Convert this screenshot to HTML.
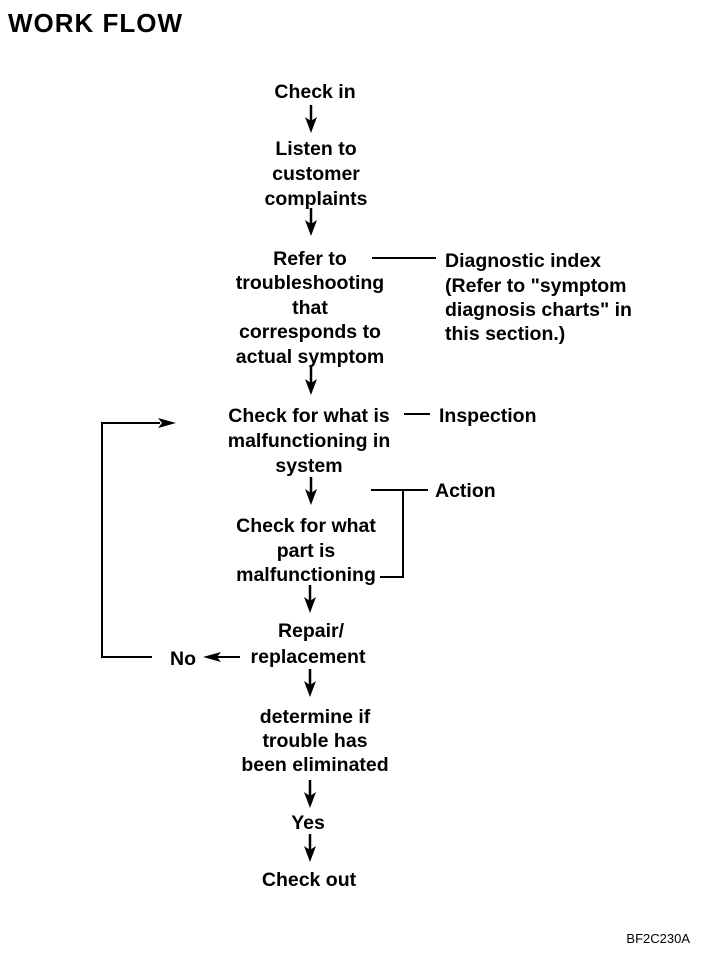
<!DOCTYPE html>
<html><head><meta charset="utf-8"><style>
html,body{margin:0;padding:0;background:#fff;}
svg{display:block;}
text{font-family:"Liberation Sans",sans-serif;font-size:19.5px;font-weight:bold;fill:#000;}
</style></head><body>
<svg width="704" height="962" viewBox="0 0 704 962" xmlns="http://www.w3.org/2000/svg">
<defs>
<g id="ad"><line x1="0" y1="0" x2="0" y2="16" stroke="#000" stroke-width="2.5"/><path d="M-6,12 L0,28 L6,12 L0,16 Z" fill="#000"/></g>
</defs>
<text x="8" y="32" style="font-size:26px;letter-spacing:1px">WORK FLOW</text>

<g text-anchor="middle">
<text x="315" y="98">Check in</text>
<text x="316" y="155">Listen to</text>
<text x="316" y="180">customer</text>
<text x="316" y="205">complaints</text>
<text x="310" y="265">Refer to</text>
<text x="310" y="289">troubleshooting</text>
<text x="310" y="314">that</text>
<text x="310" y="338">corresponds to</text>
<text x="310" y="363">actual symptom</text>
<text x="309" y="422">Check for what is</text>
<text x="309" y="447">malfunctioning in</text>
<text x="309" y="472">system</text>
<text x="306" y="532">Check for what</text>
<text x="306" y="557">part is</text>
<text x="306" y="581">malfunctioning</text>
<text x="311" y="637">Repair/</text>
<text x="308" y="663">replacement</text>
<text x="183" y="665">No</text>
<text x="315" y="723">determine if</text>
<text x="315" y="747">trouble has</text>
<text x="315" y="771">been eliminated</text>
<text x="308" y="829">Yes</text>
<text x="309" y="886">Check out</text>
</g>
<text x="445" y="267">Diagnostic index</text>
<text x="445" y="292">(Refer to "symptom</text>
<text x="445" y="316">diagnosis charts" in</text>
<text x="445" y="340">this section.)</text>
<text x="439" y="422">Inspection</text>
<text x="435" y="497">Action</text>
<text x="690" y="943" text-anchor="end" style="font-size:13px;font-weight:normal">BF2C230A</text>

<use href="#ad" x="311" y="105"/>
<use href="#ad" x="311" y="208"/>
<use href="#ad" x="311" y="367"/>
<use href="#ad" x="311" y="477"/>
<use href="#ad" x="310" y="585"/>
<use href="#ad" x="310" y="669"/>
<use href="#ad" x="310" y="780"/>
<use href="#ad" x="310" y="834"/>

<g stroke="#000" stroke-width="2" fill="none">
<line x1="372" y1="258" x2="436" y2="258"/>
<line x1="404" y1="414" x2="430" y2="414"/>
<polyline points="371,490 428,490"/>
<polyline points="380,577 403,577 403,490"/>
<polyline points="152,657 102,657 102,423 160,423"/>
<line x1="215" y1="657" x2="240" y2="657"/>
</g>
<path d="M158,418 L176,423 L158,428 L162,423 Z" fill="#000"/>
<path d="M221,652 L203,657 L221,662 L217,657 Z" fill="#000"/>
</svg>
</body></html>
